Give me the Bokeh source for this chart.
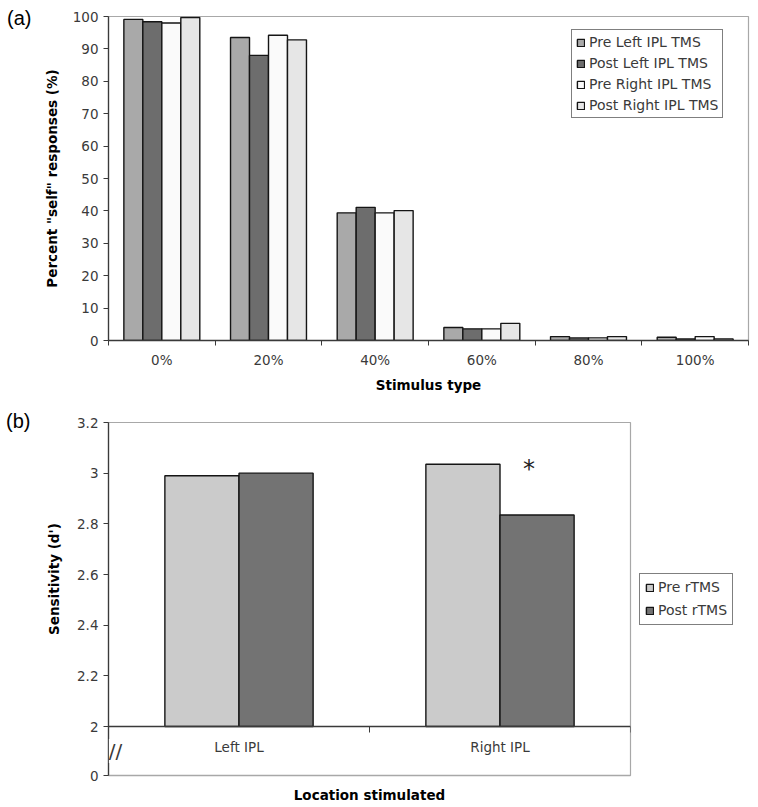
import numpy as np
from bokeh.plotting import figure
from bokeh.models import FixedTicker, LinearAxis, Range1d, Legend, LegendItem, Label, Title, Div
from bokeh.layouts import column, row
from bokeh.embed import file_html
from bokeh.resources import INLINE

# ---------------- data: panel (a) ----------------
stimulus_types = ["0%", "20%", "40%", "60%", "80%", "100%"]
series_a = ["Pre Left IPL TMS", "Post Left IPL TMS", "Pre Right IPL TMS", "Post Right IPL TMS"]
pre_left_ipl = [99.1, 93.5, 39.4, 4.0, 1.2, 1.0]
post_left_ipl = [98.4, 88.0, 41.1, 3.6, 0.8, 0.5]
pre_right_ipl = [98.0, 94.2, 39.4, 3.6, 0.8, 1.2]
post_right_ipl = [99.7, 92.8, 40.1, 5.3, 1.2, 0.5]
y_ticks_a = [0, 10, 20, 30, 40, 50, 60, 70, 80, 90, 100]

# ---------------- data: panel (b) ----------------
locations = ["Left IPL", "Right IPL"]
series_b = ["Pre rTMS", "Post rTMS"]
pre_rtms = [2.99, 3.035]
post_rtms = [3.0, 2.835]
y_ticks_b = [2.0, 2.2, 2.4, 2.6, 2.8, 3.0, 3.2]
y_tick_labels_b = ["2", "2.2", "2.4", "2.6", "2.8", "3", "3.2"]
axis_break_label = "0"

# ---------------- styles ----------------
FONT = "DejaVu Sans"
TICK_SIZE = "13.5px"
LEGEND_SIZE = "14px"
LABEL_SIZE = "13.5px"
AXC = "#3a3a3a"
TXC = "#3a3a3a"
OUTLINE = "#a8a8a8"
EDGE = "#151515"
colors_a = ["#a9a9a9", "#6d6d6d", "#fafafa", "#e6e6e6"]
colors_b = ["#cbcbcb", "#737373"]
TAG_W_A = 32
TAG_W_B = 30


def style_axis(ax):
    ax.axis_line_color = AXC
    ax.axis_line_width = 1.3
    ax.major_tick_line_color = AXC
    ax.minor_tick_line_color = AXC
    ax.major_label_text_font = FONT
    ax.major_label_text_font_size = TICK_SIZE
    ax.major_label_text_color = TXC
    ax.axis_label_text_font = FONT
    ax.axis_label_text_font_size = LABEL_SIZE
    ax.axis_label_text_font_style = "bold"
    ax.axis_label_text_color = "black"


def panel_tag(text, width, pad_left, pad_top):
    html = ('<div style="font-family: \'Liberation Sans\', Arial, sans-serif; font-size: 20px; '
            'line-height: 23px; color: black; white-space: nowrap; overflow: visible; '
            'padding-left: %dpx; padding-top: %dpx;">%s</div>' % (pad_left, pad_top, text))
    return Div(text=html, width=width, height=40, margin=0)


# ================= panel (a) =================
n_a = len(stimulus_types)
pa = figure(frame_width=640, frame_height=324, x_range=Range1d(0, n_a), y_range=Range1d(0, 100),
            output_backend="svg", toolbar_location=None,
            min_border_left=108 - TAG_W_A, min_border_right=2, min_border_top=16,
            min_border_bottom=60)
pa.xgrid.visible = False
pa.ygrid.visible = False
pa.outline_line_color = OUTLINE
pa.outline_line_width = 1.2

bw_a = 0.178
items_a = []
for k, (name, vals, col) in enumerate(zip(series_a,
                                          [pre_left_ipl, post_left_ipl, pre_right_ipl, post_right_ipl],
                                          colors_a)):
    xs = [i + 0.5 + (k - 1.5) * bw_a for i in range(n_a)]
    r = pa.vbar(x=xs, top=vals, bottom=0, width=bw_a, fill_color=col,
                line_color=EDGE, line_width=1.4)
    items_a.append(LegendItem(label=name, renderers=[r]))

centers_a = [i + 0.5 for i in range(n_a)]
xa = pa.xaxis[0]
style_axis(xa)
xa.ticker = FixedTicker(ticks=centers_a, minor_ticks=list(range(n_a + 1)))
xa.major_label_overrides = {c: s for c, s in zip(centers_a, stimulus_types)}
xa.major_tick_line_color = None
xa.major_tick_in = 0
xa.major_tick_out = 5
xa.minor_tick_in = 0
xa.minor_tick_out = 5
xa.major_label_standoff = 6
xa.axis_label = "Stimulus type"
xa.axis_label_standoff = 6

ya = pa.yaxis[0]
style_axis(ya)
ya.ticker = FixedTicker(ticks=y_ticks_a)
ya.major_tick_in = 0
ya.major_tick_out = 5
ya.minor_tick_line_color = None
ya.major_label_standoff = 5
ya.axis_label = "Percent \"self\" responses (%)"
ya.axis_label_standoff = 10

leg_a = Legend(items=items_a, location=(463, 222), orientation="vertical",
               label_text_font=FONT, label_text_font_size=LEGEND_SIZE, label_text_color=TXC,
               glyph_width=9, glyph_height=9, label_height=16, label_standoff=4,
               spacing=5, padding=4, margin=0,
               border_line_color="black", border_line_width=1, background_fill_alpha=1.0)
pa.add_layout(leg_a)

# ================= panel (b) =================
n_b = len(locations)
px_per_unit = 304 / (y_ticks_b[-1] - y_ticks_b[0])
base_b = y_ticks_b[0] - 49 / px_per_unit
pb = figure(frame_width=522, frame_height=353, x_range=Range1d(0, n_b),
            y_range=Range1d(base_b, y_ticks_b[-1]),
            output_backend="svg", toolbar_location=None,
            min_border_left=108 - TAG_W_B, min_border_right=120, min_border_top=22,
            min_border_bottom=32)
pb.xgrid.visible = False
pb.ygrid.visible = False
pb.outline_line_color = OUTLINE
pb.outline_line_width = 1.2

bw_b = 0.284
items_b = []
for k, (name, vals, col) in enumerate(zip(series_b, [pre_rtms, post_rtms], colors_b)):
    xs = [i + 0.5 + (k - 0.5) * bw_b for i in range(n_b)]
    r = pb.vbar(x=xs, top=vals, bottom=y_ticks_b[0], width=bw_b, fill_color=col,
                line_color=EDGE, line_width=1.4)
    items_b.append(LegendItem(label=name, renderers=[r]))

# main bottom axis: frame base line + axis title
xb = pb.xaxis[0]
style_axis(xb)
xb.axis_line_color = OUTLINE
xb.ticker = FixedTicker(ticks=[])
xb.major_tick_in = 0
xb.major_tick_out = 0
xb.axis_label = "Location stimulated"
xb.axis_label_standoff = 11

# category axis drawn at the axis break level
centers_b = [i + 0.5 for i in range(n_b)]
xb2 = LinearAxis(fixed_location=y_ticks_b[0],
                 ticker=FixedTicker(ticks=centers_b, minor_ticks=list(range(n_b + 1))))
style_axis(xb2)
xb2.major_label_overrides = {c: s for c, s in zip(centers_b, locations)}
xb2.major_tick_line_color = None
xb2.major_tick_in = 0
xb2.major_tick_out = 5
xb2.minor_tick_in = 0
xb2.minor_tick_out = 6
xb2.major_label_standoff = 6
pb.add_layout(xb2, "below")

yb = pb.yaxis[0]
style_axis(yb)
yb.ticker = FixedTicker(ticks=[base_b] + y_ticks_b)
overrides_b = {t: s for t, s in zip(y_ticks_b, y_tick_labels_b)}
overrides_b[base_b] = axis_break_label
yb.major_label_overrides = overrides_b
yb.major_tick_in = 0
yb.major_tick_out = 5
yb.minor_tick_line_color = None
yb.major_label_standoff = 5

# y axis title, centred on the visible (unbroken) part of the scale
pb.add_layout(Title(text="Sensitivity  (d')", align="right", offset=96, standoff=26,
                    text_font=FONT, text_font_size=LABEL_SIZE, text_font_style="bold",
                    text_color="black"), "left")

# axis-break marks
pb.add_layout(Label(x=0, y=(base_b + y_ticks_b[0]) / 2, text="//", text_font=FONT,
                    text_font_size="20px", text_align="center", text_baseline="middle",
                    text_color=AXC, background_fill_color="white", x_offset=7, y_offset=0))

# significance star
pb.add_layout(Label(x=1 + 0.5 + 0.5 * bw_b, y=pre_rtms[1], text="*", text_font=FONT,
                    text_font_size="24px", text_align="center", text_baseline="middle",
                    x_offset=-8, y_offset=-5, text_color="#222222"))

leg_b = Legend(items=items_b, location="center_left", orientation="vertical",
               label_text_font=FONT, label_text_font_size=LEGEND_SIZE, label_text_color=TXC,
               glyph_width=9, glyph_height=9, label_height=17, label_standoff=4,
               spacing=6, padding=5, margin=9,
               border_line_color="black", border_line_width=1, background_fill_alpha=1.0)
pb.add_layout(leg_b, "right")

layout = column(row(panel_tag("(a)", TAG_W_A, 7, 7), pa, spacing=0),
                row(panel_tag("(b)", TAG_W_B, 6, 10), pb, spacing=0), spacing=0)
open("out.html", "w").write(file_html(layout, INLINE))
